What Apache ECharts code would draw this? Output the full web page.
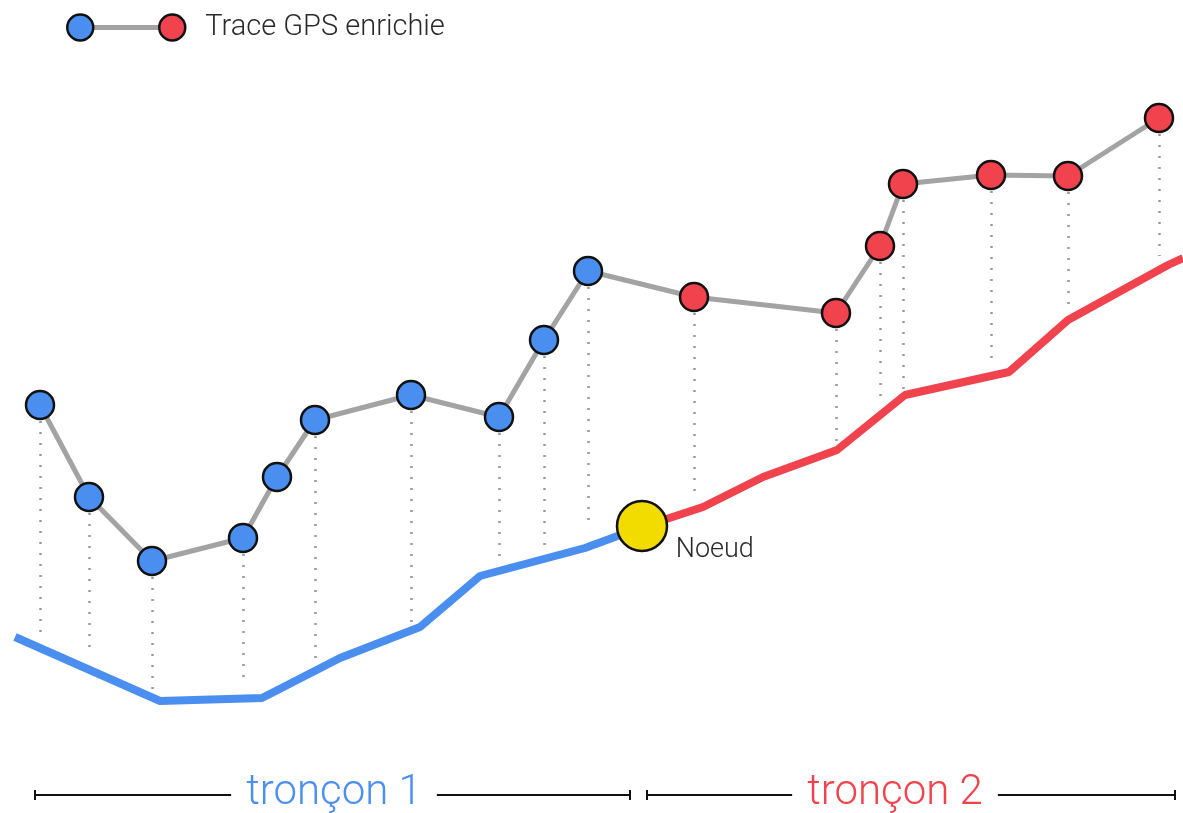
<!DOCTYPE html>
<html>
<head>
<meta charset="utf-8">
<title>Trace GPS enrichie</title>
<script src="https://cdn.jsdelivr.net/npm/echarts@6/dist/echarts.min.js"></script>
<style>
    html, body { margin: 0; padding: 0; background: #fff; }
    #chart { width: 1183px; height: 813px; }
</style>
</head>
<body>
<div id="chart"></div>
<script>
// points GPS (x = distance, y = position verticale, axe inversé)
var gpsX = [40, 89, 152, 243, 277, 315, 411, 499, 544, 588, 694, 836, 880, 903, 991, 1068, 1159];
var gpsY = [405, 497, 561, 538, 477, 420, 395, 417, 340, 271, 297, 313, 246, 184, 175, 176, 118];
// tronçon de rattachement de chaque point (0 = tronçon 1, 1 = tronçon 2)
var gpsTroncon = [0, 0, 0, 0, 0, 0, 0, 0, 0, 0, 1, 1, 1, 1, 1, 1, 1];
// fin des pointillés de projection (null = pas de projection)
var dropEnd = [635, 653, 690, 684, null, 660, 622, 556, 553, 529, 500, 443, 404, 393, 364, 313, 256];

// route : tronçon 1 et tronçon 2
var road1X = [15, 160, 262, 340, 420, 480, 585, 642];
var road1Y = [637, 701, 698, 658, 627, 576, 548, 527];
var road2X = [642, 703, 763, 837, 905, 1009, 1068, 1168, 1183];
var road2Y = [527, 507, 477, 450, 395, 372, 320, 265, 258];

// noeud
var nodeX = [642];
var nodeY = [526];
var nodeName = 'Noeud';

// étendue des tronçons (bas du schéma)
var tronconNames = ['tronçon 1', 'tronçon 2'];
var tronconStart = [35, 647];
var tronconEnd = [630, 1175];
var tronconLabelX = [334, 895];
var tronconLevel = 795;

var legendName = 'Trace GPS enrichie';

var colors = ['#4a8ff0', '#f0434e'];

var chart = echarts.init(document.getElementById('chart'));

function pairs(xs, ys) {
    return xs.map(function (x, i) { return [x, ys[i]]; });
}

var dropLines = [];
gpsX.forEach(function (x, i) {
    if (dropEnd[i] !== null) {
        dropLines.push({ coords: [[x, gpsY[i] + 16], [x, dropEnd[i]]] });
    }
});

var option = {
    backgroundColor: '#fff',
    animation: false,
    grid: { left: 0, right: 0, top: 0, bottom: 0 },
    xAxis: { type: 'value', min: 0, max: 1183, show: false },
    yAxis: { type: 'value', min: 0, max: 813, inverse: true, show: false },
    graphic: [
        {
            type: 'group',
            left: 66,
            top: 13,
            children: [
                { type: 'line', shape: { x1: 14, y1: 14, x2: 106, y2: 14 }, style: { stroke: '#a3a3a3', lineWidth: 5 } },
                { type: 'circle', shape: { cx: 14, cy: 14, r: 13 }, style: { fill: colors[0], stroke: '#111', lineWidth: 2.5 } },
                { type: 'circle', shape: { cx: 106, cy: 14, r: 13 }, style: { fill: colors[1], stroke: '#111', lineWidth: 2.5 } },
                { type: 'text', x: 139, y: 14, style: { text: legendName, fill: '#2a2a2a', font: '300 29px Roboto', verticalAlign: 'middle' } }
            ]
        }
    ],
    series: [
        {
            type: 'lines',
            coordinateSystem: 'cartesian2d',
            data: dropLines,
            silent: true,
            lineStyle: { color: '#999', width: 2.5, type: [2, 9], opacity: 1 },
            z: 1
        },
        {
            type: 'line',
            data: pairs(road1X, road1Y),
            showSymbol: false,
            lineStyle: { color: colors[0], width: 8 },
            z: 2
        },
        {
            type: 'line',
            data: pairs(road2X, road2Y),
            showSymbol: false,
            lineStyle: { color: colors[1], width: 8 },
            z: 2
        },
        {
            type: 'line',
            data: gpsX.map(function (x, i) {
                return { value: [x, gpsY[i]], itemStyle: { color: colors[gpsTroncon[i]] } };
            }),
            symbol: 'circle',
            symbolSize: 28,
            lineStyle: { color: '#a3a3a3', width: 5 },
            itemStyle: { borderColor: '#111', borderWidth: 2.5, opacity: 1 },
            z: 3
        },
        {
            type: 'scatter',
            data: pairs(nodeX, nodeY),
            symbolSize: 50,
            itemStyle: { color: '#f2dc00', borderColor: '#111', borderWidth: 2.5, opacity: 1 },
            label: {
                show: true,
                formatter: nodeName,
                position: [60, 50],
                color: '#2a2a2a',
                fontFamily: 'Roboto',
                fontWeight: 300,
                fontSize: 27,
                verticalAlign: 'middle'
            },
            z: 4
        },
        {
            type: 'custom',
            data: tronconNames.map(function (n, i) {
                return [tronconStart[i], tronconEnd[i], tronconLevel, tronconLabelX[i]];
            }),
            renderItem: function (params, api) {
                var a = api.coord([api.value(0), api.value(2)]);
                var b = api.coord([api.value(1), api.value(2)]);
                var t = api.coord([api.value(3), api.value(2)]);
                var i = params.dataIndex;
                return {
                    type: 'group',
                    children: [
                        { type: 'line', shape: { x1: a[0], y1: a[1], x2: b[0], y2: b[1] }, style: { stroke: '#111', lineWidth: 2 } },
                        { type: 'line', shape: { x1: a[0], y1: a[1] - 5, x2: a[0], y2: a[1] + 5 }, style: { stroke: '#111', lineWidth: 2 } },
                        { type: 'line', shape: { x1: b[0], y1: b[1] - 5, x2: b[0], y2: b[1] + 5 }, style: { stroke: '#111', lineWidth: 2 } },
                        {
                            type: 'text', x: t[0], y: t[1] - 2,
                            style: {
                                text: tronconNames[i], fill: colors[i],
                                font: '300 42px Roboto', align: 'center', verticalAlign: 'middle',
                                backgroundColor: '#fff', padding: [0, 15]
                            }
                        }
                    ]
                };
            },
            z: 5
        }
    ]
};

chart.setOption(option);
</script>
</body>
</html>
